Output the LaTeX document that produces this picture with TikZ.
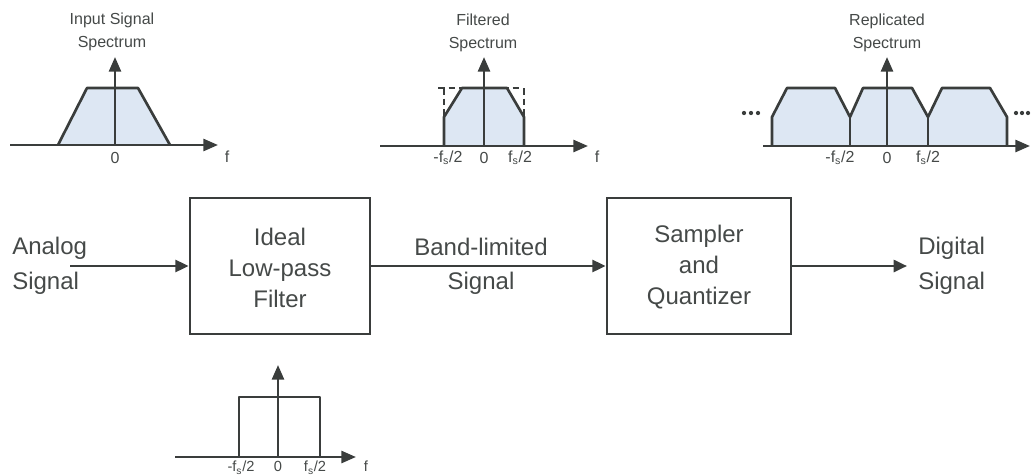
\documentclass[tikz,border=0pt]{standalone}
\usepackage{fontspec}
\setmainfont{Liberation Sans}
\usetikzlibrary{arrows.meta}
\definecolor{ink}{HTML}{3A3D3C}
\definecolor{txt}{HTML}{454948}
\definecolor{spec}{HTML}{DDE7F3}
\begin{document}
\begin{tikzpicture}[x=0.75pt,y=-0.75pt,
  ln/.style={draw=ink,line width=2pt,line join=round},
  ax/.style={draw=ink,line width=2pt,-{Triangle[length=11pt,width=9pt]}},
  flow/.style={draw=ink,line width=2pt,-{Triangle[length=10pt,width=9pt]}},
  dsh/.style={draw=ink,line width=1pt,dash pattern=on 5pt off 3pt},
  blk/.style={draw=ink,line width=2pt,minimum height=102pt,inner sep=0pt},
  big/.style={text=txt,font=\fontsize{18}{23}\selectfont,align=center,inner sep=0pt},
  lbl/.style={text=txt,font=\fontsize{18}{23}\selectfont,inner sep=0pt},
  small/.style={text=txt,font=\fontsize{12}{17}\selectfont,align=center,inner sep=0pt},
  tick/.style={text=txt,font=\fontsize{12}{13}\selectfont,inner sep=0pt},
  btick/.style={text=txt,font=\fontsize{11}{12}\selectfont,inner sep=0pt,anchor=north}]
\useasboundingbox (0,0) rectangle (1031,475);

% ---------- panel 1: input spectrum
\fill[spec] (58,145) -- (87,88) -- (138,88) -- (170,145) -- cycle;
\draw[ln] (58,145) -- (87,88) -- (138,88) -- (170,145);
\draw[ax] (10,145) -- (218,145);
\draw[ax] (115,145) -- (115,57);
\node[tick] (p1z) at (115,158) {0};
\node[tick] (p1f) at (227,157) {f};
\node[small] (p1t) at (112,32) {Input Signal\\Spectrum};

% ---------- panel 2: filtered spectrum
\fill[spec] (444,146) -- (444,117) -- (462,88) -- (507,88) -- (524,117) -- (524,146) -- cycle;
\draw[dsh] (438,88) -- (523,88);
\draw[dsh] (444,88) -- (444,117);
\draw[dsh] (524,88) -- (524,117);
\draw[ln] (444,146) -- (444,117) -- (462,88) -- (507,88) -- (524,117) -- (524,146);
\draw[ax] (380,146) -- (588,146);
\draw[ax] (484,146) -- (484,57);
\node[tick] (p2a) at (448,158) {-f\textsubscript{s}/2};
\node[tick] (p2z) at (484,158) {0};
\node[tick] (p2b) at (520,158) {f\textsubscript{s}/2};
\node[tick] (p2f) at (597,157) {f};
\node[small] (p2t) at (483,33) {Filtered\\Spectrum};

% ---------- panel 3: replicated spectrum
\fill[spec] (772,146) -- (772,117) -- (787,88) -- (835,88) -- (850,117) -- (863,88) -- (912,88)
  -- (928,117) -- (942,88) -- (990,88) -- (1007,117) -- (1007,146) -- cycle;
\draw[ln] (772,146) -- (772,117) -- (787,88) -- (835,88) -- (850,117) -- (863,88) -- (912,88)
  -- (928,117) -- (942,88) -- (990,88) -- (1007,117) -- (1007,146);
\draw[ln] (850,117) -- (850,146);
\draw[ln] (928,117) -- (928,146);
\draw[ax] (763,146) -- (1030,146);
\draw[ax] (887,146) -- (887,57);
\foreach \x in {744,751,758,1016,1022,1028} \fill[ink] (\x,113) circle (1.6pt);
\node[tick] (p3a) at (840,158) {-f\textsubscript{s}/2};
\node[tick] (p3z) at (887,158) {0};
\node[tick] (p3b) at (928,158) {f\textsubscript{s}/2};
\node[small] (p3t) at (887,33) {Replicated\\Spectrum};

% ---------- panel 4: ideal filter response
\draw[ln] (239,457) -- (239,397) -- (320,397) -- (320,457);
\draw[ax] (175,457) -- (356,457);
\draw[ax] (278,457) -- (278,365);
\node[btick] (p4a) at (241,461) {-f\textsubscript{s}/2};
\node[btick] (p4z) at (278,461) {0};
\node[btick] (p4b) at (315,461) {f\textsubscript{s}/2};
\node[btick] (p4f) at (366,461) {f};

% ---------- block diagram
\node[blk,minimum width=135pt] (filt) at (280,266) {};
\node[big] (filttxt) at (280,268) {Ideal\\Low-pass\\Filter};
\node[blk,minimum width=138pt] (sq) at (699,266) {};
\node[big] (sqtxt) at (699,267) {Sampler\\and\\Quantizer};

\coordinate (in) at (70,266);
\coordinate (out) at (907,266);
\draw[flow] (in) -- (filt.west);
\draw[flow] (filt.east) -- (sq.west);
\draw[flow] (sq.east) -- (out);

\node[lbl,anchor=west] (an1) at (12,248) {Analog};
\node[lbl,anchor=west] (an2) at (12,283) {Signal};
\node[lbl] (bl1) at (481,247) {Band-limited};
\node[lbl] (bl2) at (481,283) {Signal};
\node[lbl,anchor=west] (dg1) at (918,248) {Digital};
\node[lbl,anchor=west] (dg2) at (918,283) {Signal};
\end{tikzpicture}
\end{document}
